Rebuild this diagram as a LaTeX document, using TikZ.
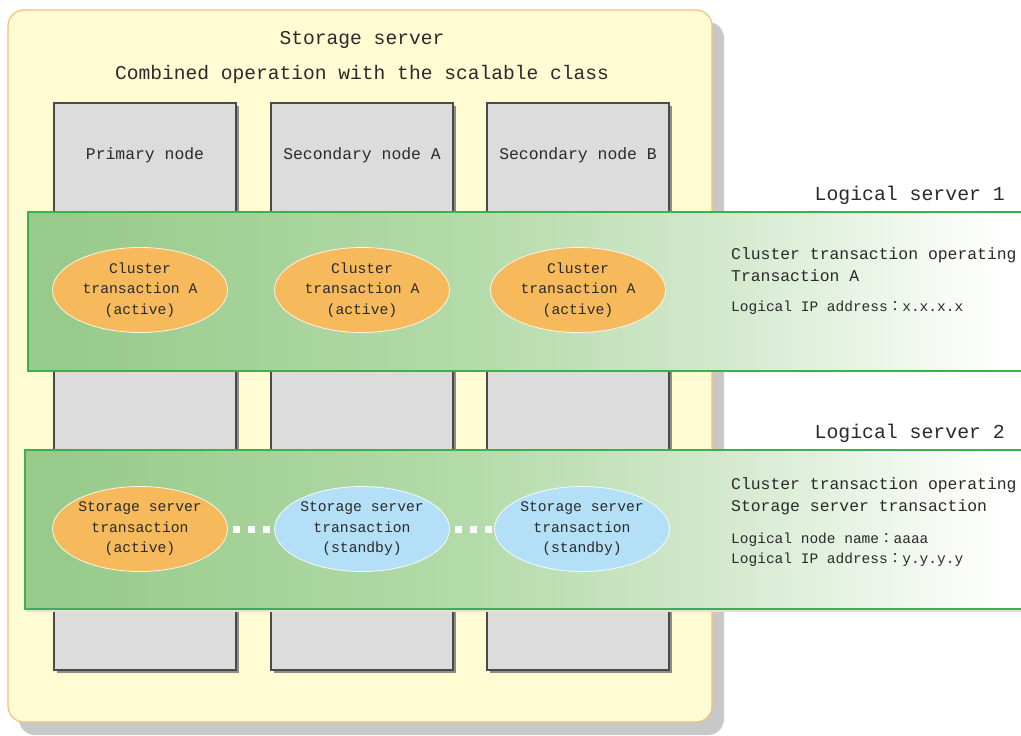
\documentclass[tikz,border=0pt]{standalone}
\usepackage{fontspec}
\setmonofont{Liberation Mono}
\newfontfamily\cjk{Noto Sans CJK JP}
\usetikzlibrary{shapes.geometric}
\definecolor{yfill}{HTML}{FFFBD2}
\definecolor{yborder}{HTML}{F2C27A}
\definecolor{shgray}{HTML}{C8C8C8}
\definecolor{colfill}{HTML}{DCDCDC}
\definecolor{colborder}{HTML}{4A4A4A}
\definecolor{gborder}{HTML}{3DB04E}
\definecolor{g0}{HTML}{98CB8B}
\definecolor{g1}{HTML}{B4DBAA}
\definecolor{g2}{HTML}{D3E9CD}
\definecolor{orng}{HTML}{F6B95B}
\definecolor{blu}{HTML}{B3E0F7}
\definecolor{txt}{HTML}{2A2A2A}
\pgfdeclarehorizontalshading{bandshade}{100bp}{color(0bp)=(g0); color(27bp)=(g0); color(47.5bp)=(g1); color(60bp)=(g2); color(74bp)=(white); color(100bp)=(white)}
\tikzset{
  titletext/.style={font=\ttfamily\fontsize{19.6}{22}\selectfont, text=txt, inner sep=0},
  coltext/.style={font=\ttfamily\fontsize{16.4}{19}\selectfont, text=txt, inner sep=0},
  colbox/.style={draw=colborder, fill=colfill, line width=1.6pt, minimum width=182pt, minimum height=567pt, inner sep=0},
  colshadow/.style={fill=black!45, minimum width=182pt, minimum height=567pt, inner sep=0},
  trans/.style={ellipse, draw=white!85!orng, line width=0.8pt, minimum width=175pt, minimum height=85pt, inner sep=0,
    align=center, font=\ttfamily\fontsize{14.7}{20.5}\selectfont, text=txt},
  activeT/.style={trans, fill=orng},
  standbyT/.style={trans, fill=blu, draw=white!85!blu},
  infotext/.style={font=\ttfamily\fontsize{16.4}{22}\selectfont, text=txt, inner sep=0, align=left, anchor=north west},
  infosmall/.style={font=\ttfamily\fontsize{14.5}{20}\selectfont, text=txt, inner sep=0, align=left, anchor=north west},
  lstext/.style={font=\ttfamily\fontsize{19.8}{22}\selectfont, text=txt, inner sep=0, anchor=east},
  dotline/.style={white, line width=7pt, dash pattern=on 7pt off 8pt, shorten <=5pt},
}
\begin{document}
\begin{tikzpicture}[x=1pt,y=-1pt]
\useasboundingbox (0,0) rectangle (1021,736);
\fill[white] (0,0) rectangle (1021,736);
% container with shadow
\fill[shgray, rounded corners=16pt] (19,22) rectangle (724,735);
\draw[yborder, fill=yfill, line width=1.2pt, rounded corners=16pt] (8,10) rectangle (712,722);
\node[titletext] (t1) at (362,40) {Storage server};
\node[titletext] (t2) at (362,74) {Combined operation with the scalable class};
% columns
\foreach \cx in {145,362,578} {
  \node[colshadow] at (\cx+3,389.5) {};
}
\node[colbox] (c1) at (145,386.5) {};
\node[colbox] (c2) at (362,386.5) {};
\node[colbox] (c3) at (578,386.5) {};
\node[coltext] (n1) at (145,155) {Primary node};
\node[coltext] (n2) at (362,155) {Secondary node A};
\node[coltext] (n3) at (578,155) {Secondary node B};
% logical server bands
\begin{scope}
\clip (0,0) rectangle (1021,736);
\shade[shading=bandshade] (28,212) rectangle (1021,371);
\draw[gborder, line width=1.5pt] (1030,212) -- (28,212) -- (28,371) -- (1030,371);
\fill[black!12] (26,610) rectangle (1021,612);
\shade[shading=bandshade] (25,450) rectangle (1021,609);
\draw[gborder, line width=1.5pt] (1030,450) -- (25,450) -- (25,609) -- (1030,609);
\end{scope}
\node[lstext] (ls1) at (1005,195) {Logical server 1};
\node[lstext] (ls2) at (1005,433) {Logical server 2};
% transactions, logical server 1
\node[activeT] (a1) at (140,290) {Cluster\\transaction A\\(active)};
\node[activeT] (a2) at (362,290) {Cluster\\transaction A\\(active)};
\node[activeT] (a3) at (578,290) {Cluster\\transaction A\\(active)};
% transactions, logical server 2
\node[activeT] (s1) at (140,529) {Storage server\\transaction\\(active)};
\node[standbyT] (s2) at (362,529) {Storage server\\transaction\\(standby)};
\node[standbyT] (s3) at (582,529) {Storage server\\transaction\\(standby)};
\draw[dotline] (s1.east) -- (s2.west);
\draw[dotline] (s2.east) -- (s3.west);
% info texts
\node[infotext] (i1) at (731,247) {Cluster transaction operating\\Transaction A};
\node[infosmall] (i2) at (731,301) {Logical IP address{\cjk ：}x.x.x.x};
\node[infotext] (i3) at (731,477) {Cluster transaction operating\\Storage server transaction};
\node[infosmall] (i4) at (731,533) {Logical node name{\cjk ：}aaaa\\Logical IP address{\cjk ：}y.y.y.y};
\end{tikzpicture}
\end{document}
